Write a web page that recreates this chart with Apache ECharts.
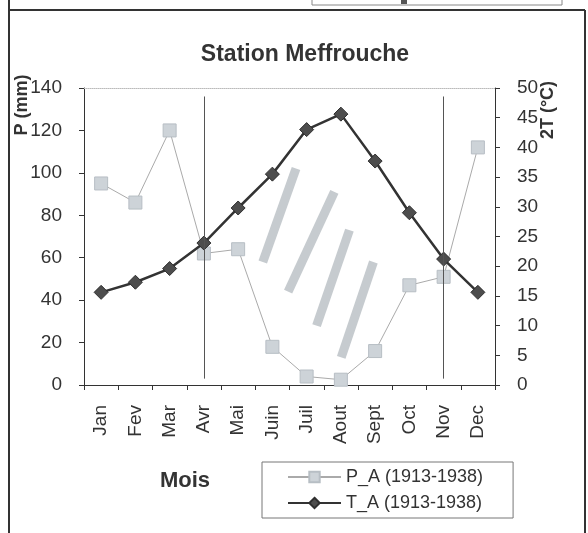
<!DOCTYPE html>
<html>
<head>
<meta charset="utf-8">
<script src="https://cdn.jsdelivr.net/npm/echarts@6/dist/echarts.min.js"></script>
<style>
  html, body { margin: 0; padding: 0; background: #fff; }
  #chart { width: 588px; height: 533px; }
</style>
</head>
<body>
<div id="chart"></div>
<script>
// mois
var months = ['Jan', 'Fev', 'Mar', 'Avr', 'Mai', 'Juin', 'Juil', 'Aout', 'Sept', 'Oct', 'Nov', 'Dec'];
// precipitations (mm)
var pValues = [95, 86, 120, 62, 64, 18, 4, 2.5, 16, 47, 51, 112];
// 2T (°C)
var tValues = [15.6, 17.3, 19.6, 23.9, 29.8, 35.5, 43.0, 45.6, 37.7, 29.0, 21.2, 15.6];
// periode seche : hachures [x haut, P haut, x bas, P bas]
var hatchStripes = [
  [5.69, 102, 4.72, 58],
  [6.81, 91, 5.46, 44],
  [7.25, 73, 6.29, 28],
  [7.95, 58, 7.01, 13]
];
// limites de la periode seche
var dryStart = 'Avr';
var dryEnd = 'Nov';

var font = 'Liberation Sans, Arial, sans-serif';
var chart = echarts.init(document.getElementById('chart'));

chart.setOption({
  animation: false,
  backgroundColor: '#fff',
  title: {
    text: 'Station Meffrouche',
    left: 300,
    top: 38,
    textAlign: 'center',
    textStyle: { fontFamily: font, fontSize: 23, fontWeight: 'bold', color: '#333' }
  },
  grid: { left: 84, right: 93, top: 88, bottom: 148 },
  legend: {
    left: 262,
    top: 462,
    orient: 'vertical',
    data: ['P_A (1913-1938)', 'T_A (1913-1938)'],
    itemWidth: 53,
    itemHeight: 13,
    itemGap: 8,
    padding: [6, 30, 6, 25],
    borderColor: '#777',
    borderWidth: 1,
    textStyle: { fontFamily: font, fontSize: 18, color: '#333' }
  },
  xAxis: [
    {
      type: 'category',
      data: months,
      boundaryGap: true,
      axisLine: { onZero: false, lineStyle: { color: '#333', width: 1 } },
      axisTick: { show: true, interval: 0, length: 5, lineStyle: { color: '#333' } },
      axisLabel: { interval: 0, rotate: 90, margin: 20, fontFamily: font, fontSize: 19, color: '#333' }
    },
    {
      type: 'value',
      min: -0.5,
      max: 11.5,
      position: 'top',
      axisLine: { show: true, onZero: false, lineStyle: { color: '#bbb', type: 'dotted' } },
      axisTick: { show: false },
      axisLabel: { show: false },
      splitLine: { show: false }
    }
  ],
  yAxis: [
    {
      type: 'value',
      min: 0,
      max: 140,
      interval: 20,
      position: 'left',
      axisLine: { show: true, onZero: false, lineStyle: { color: '#333' } },
      axisTick: { show: true, length: 5, lineStyle: { color: '#333' } },
      axisLabel: { margin: 22, fontFamily: font, fontSize: 19, color: '#333' },
      splitLine: { show: false }
    },
    {
      type: 'value',
      min: 0,
      max: 50,
      interval: 5,
      position: 'right',
      axisLine: { show: true, onZero: false, lineStyle: { color: '#333' } },
      axisTick: { show: true, length: 5, lineStyle: { color: '#333' } },
      axisLabel: { margin: 22, fontFamily: font, fontSize: 19, color: '#333' },
      splitLine: { show: false }
    }
  ],
  series: [
    {
      name: 'hachures',
      type: 'custom',
      xAxisIndex: 1,
      yAxisIndex: 0,
      z: 1,
      silent: true,
      data: hatchStripes,
      renderItem: function (params, api) {
        var a = api.coord([api.value(0), api.value(1)]);
        var b = api.coord([api.value(2), api.value(3)]);
        return {
          type: 'line',
          shape: { x1: a[0], y1: a[1], x2: b[0], y2: b[1] },
          style: { stroke: '#c6cbcf', lineWidth: 9 }
        };
      }
    },
    {
      name: 'P_A (1913-1938)',
      type: 'line',
      xAxisIndex: 0,
      yAxisIndex: 0,
      z: 3,
      data: pValues,
      symbol: 'rect',
      symbolSize: 13,
      itemStyle: { color: '#cdd3d8', borderColor: '#b7bec4', borderWidth: 1 },
      lineStyle: { color: '#aaa', width: 1 },
      markLine: {
        silent: true,
        symbol: 'none',
        label: { show: false },
        lineStyle: { color: '#555', width: 1, type: 'solid' },
        data: [
          [{ coord: [dryStart, 136] }, { coord: [dryStart, 3] }],
          [{ coord: [dryEnd, 136] }, { coord: [dryEnd, 3] }]
        ]
      }
    },
    {
      name: 'T_A (1913-1938)',
      type: 'line',
      xAxisIndex: 0,
      yAxisIndex: 1,
      z: 4,
      data: tValues,
      symbol: 'diamond',
      symbolSize: 14,
      itemStyle: { color: '#4d4d4d', borderColor: '#2f2f2f', borderWidth: 1 },
      lineStyle: { color: '#333', width: 2.5 }
    }
  ],
  graphic: [
    // cadre
    { type: 'line', shape: { x1: 9, y1: 10, x2: 585, y2: 10 }, style: { stroke: '#333', lineWidth: 2 } },
    { type: 'line', shape: { x1: 9, y1: 0, x2: 9, y2: 533 }, style: { stroke: '#333', lineWidth: 2 } },
    { type: 'line', shape: { x1: 585, y1: 10, x2: 585, y2: 533 }, style: { stroke: '#333', lineWidth: 2 } },
    { type: 'rect', shape: { x: 312, y: -10, width: 250, height: 15 }, style: { fill: 'none', stroke: '#888', lineWidth: 1 } },
    { type: 'rect', shape: { x: 401, y: 0, width: 6, height: 4 }, style: { fill: '#555' } },
    // titres des axes
    {
      type: 'text', x: 22, y: 105, rotation: Math.PI / 2,
      style: { text: 'P (mm)', fontFamily: font, fontSize: 18, fontWeight: 'bold', fill: '#333', align: 'center', verticalAlign: 'middle' }
    },
    {
      type: 'text', x: 548, y: 110, rotation: Math.PI / 2,
      style: { text: '2T (°C)', fontFamily: font, fontSize: 18, fontWeight: 'bold', fill: '#333', align: 'center', verticalAlign: 'middle' }
    },
    {
      type: 'text', x: 185, y: 481,
      style: { text: 'Mois', fontFamily: font, fontSize: 22, fontWeight: 'bold', fill: '#333', align: 'center', verticalAlign: 'middle' }
    }
  ]
});
</script>
</body>
</html>
